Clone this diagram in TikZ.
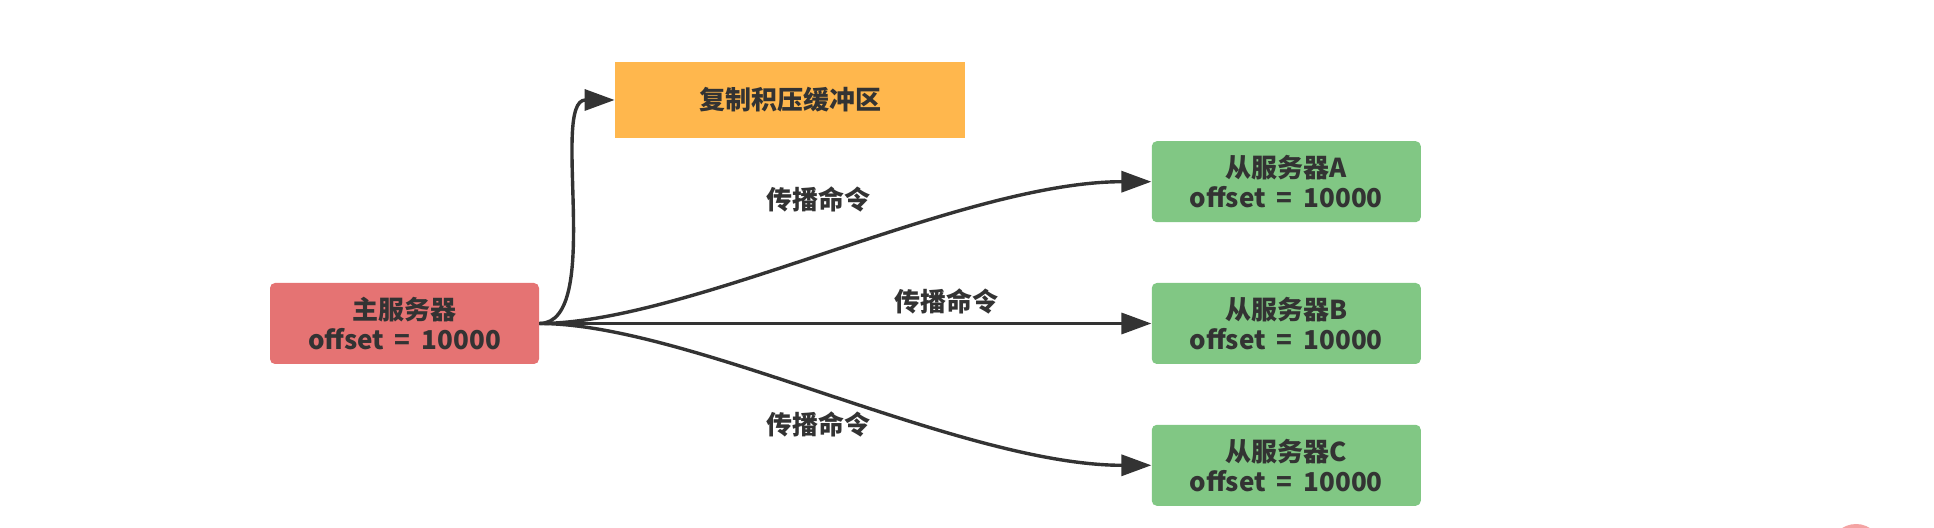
\documentclass[tikz,border=0pt]{standalone}
\usepackage{fontspec}
\setmainfont{Noto Sans CJK SC}
\usepackage{tikz}
\usetikzlibrary{arrows.meta, positioning}
\definecolor{ink}{HTML}{333333}
\definecolor{masterred}{HTML}{E57373}
\definecolor{bufferorange}{HTML}{FFB74D}
\definecolor{slavegreen}{HTML}{81C784}
\definecolor{dotpink}{HTML}{F4A3A3}
\newcommand\widesp{\spaceskip=0.42em plus 0.1em\relax}

\begin{document}
\begin{tikzpicture}[
  x=0.5pt, y=-0.5pt,
  node distance=30pt and 306pt,
  server/.style={rectangle, rounded corners=2.5pt, inner sep=0pt,
                 minimum width=134.5pt, minimum height=40.5pt,
                 font=\fontsize{13}{15}\selectfont\bfseries\widesp, text=ink, align=center},
  master/.style={server, fill=masterred},
  slave/.style={server, fill=slavegreen},
  buffer/.style={rectangle, fill=bufferorange, inner sep=0pt,
                 minimum width=175pt, minimum height=38pt,
                 font=\fontsize{13}{15}\selectfont\bfseries, text=ink},
  lbl/.style={font=\fontsize{13}{15}\selectfont\bfseries, text=ink},
  arrow/.style={-{Triangle[length=15pt, width=10.5pt]}, line width=1.7pt, ink},
]
  \useasboundingbox (0,0) rectangle (1934,528);
  \fill[dotpink] (1856,550) circle (26);

  \node[master] (m) at (404.5,323.5) {主服务器\\offset = 10000};
  \node[slave, right=of m] (sb) {从服务器B\\offset = 10000};
  \node[slave, above=of sb] (sa) {从服务器A\\offset = 10000};
  \node[slave, below=of sb] (sc) {从服务器C\\offset = 10000};
  \node[buffer] (buf) at (790,100) {复制积压缓冲区};

  \node[lbl] (la) at (818,199) {传播命令};
  \node[lbl] (lb) at (946,301) {传播命令};
  \node[lbl] (lc) at (818,424) {传播命令};

  \draw[arrow] (m.east) .. controls +(65,0) and +(-65,0) .. (buf.west);
  \draw[arrow] (m.east) .. controls +(150,0) and +(-190,0) .. (sa.west);
  \draw[arrow] (m.east) -- (sb.west);
  \draw[arrow] (m.east) .. controls +(150,0) and +(-190,0) .. (sc.west);
\end{tikzpicture}
\end{document}
